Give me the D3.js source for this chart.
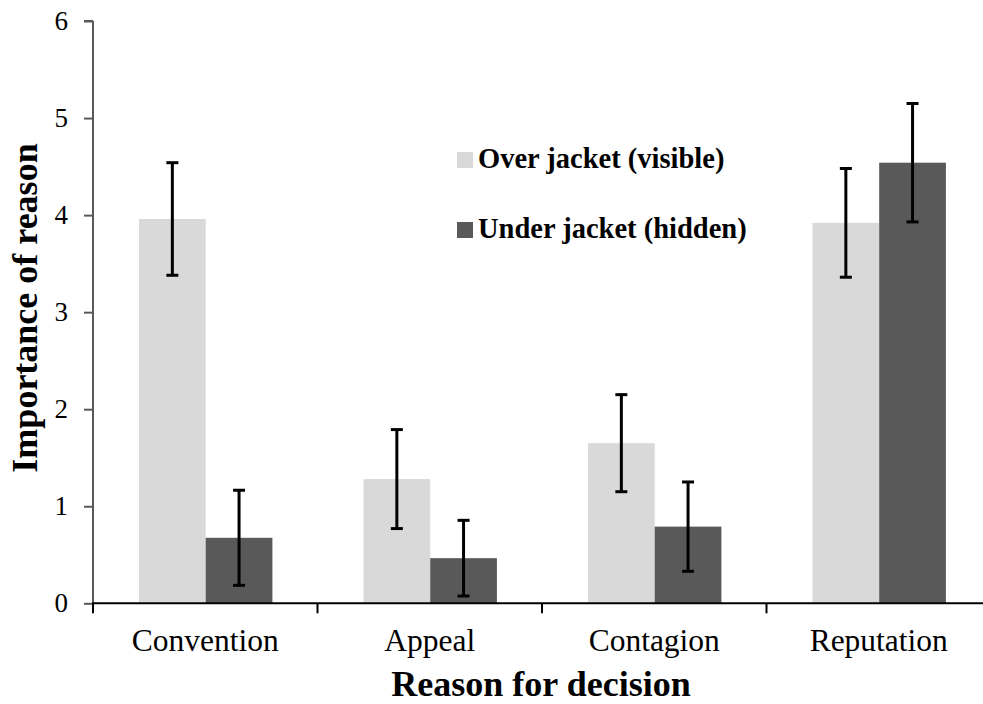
<!DOCTYPE html>
<html>
<head>
<meta charset="utf-8">
<script src="https://cdn.jsdelivr.net/npm/d3@7"></script>
<style>
  html, body { margin: 0; padding: 0; background: #fff; }
  svg { display: block; font-family: "Liberation Serif", "Times New Roman", serif; }
</style>
</head>
<body>
<svg id="chart" width="983" height="704"></svg>
<script>
// Mean importance ratings with error margins, by reason and placement
const categories = ["Convention", "Appeal", "Contagion", "Reputation"];
const seriesNames = ["Over jacket (visible)", "Under jacket (hidden)"];
const overValues = [3.96, 1.28, 1.65, 3.92];
const underValues = [0.675, 0.465, 0.79, 4.54];
const overErrors = [0.58, 0.51, 0.50, 0.56];
const underErrors = [0.49, 0.39, 0.46, 0.61];
const yTicks = [0, 1, 2, 3, 4, 5, 6];
const colors = ["#d9d9d9", "#595959"];

const svg = d3.select("#chart");

const x0 = 93, yBottom = 603.3, yTop = 21, step = 224.5;

const x = d3.scaleBand().domain(categories).range([x0, x0 + step * categories.length]).padding(0);
const xs = d3.scaleBand().domain(seriesNames).range([46, 179.4]).padding(0);
const y = d3.scaleLinear().domain([0, 6]).range([yBottom, yTop]);

const rows = categories.map((c, i) => ({
  cat: c,
  bars: [
    { s: seriesNames[0], v: overValues[i], e: overErrors[i], color: colors[0] },
    { s: seriesNames[1], v: underValues[i], e: underErrors[i], color: colors[1] }
  ]
}));

// Bars
const groups = svg.append("g").selectAll("g").data(rows).join("g")
  .attr("transform", d => `translate(${x(d.cat)},0)`);

groups.selectAll("rect").data(d => d.bars).join("rect")
  .attr("x", d => xs(d.s))
  .attr("width", xs.bandwidth())
  .attr("y", d => y(d.v))
  .attr("height", d => y(0) - y(d.v))
  .attr("fill", d => d.color);

// Error bars
const eb = groups.selectAll("g.err").data(d => d.bars).join("g").attr("class", "err")
  .attr("stroke", "#000").attr("stroke-width", 3);
eb.append("line")
  .attr("x1", d => xs(d.s) + xs.bandwidth() / 2)
  .attr("x2", d => xs(d.s) + xs.bandwidth() / 2)
  .attr("y1", d => y(d.v + d.e))
  .attr("y2", d => y(d.v - d.e));
eb.append("line")
  .attr("x1", d => xs(d.s) + xs.bandwidth() / 2 - 6)
  .attr("x2", d => xs(d.s) + xs.bandwidth() / 2 + 6)
  .attr("y1", d => y(d.v + d.e))
  .attr("y2", d => y(d.v + d.e));
eb.append("line")
  .attr("x1", d => xs(d.s) + xs.bandwidth() / 2 - 6)
  .attr("x2", d => xs(d.s) + xs.bandwidth() / 2 + 6)
  .attr("y1", d => y(d.v - d.e))
  .attr("y2", d => y(d.v - d.e));

// Y axis
const yAxis = svg.append("g")
  .attr("transform", `translate(${x0},0)`)
  .call(d3.axisLeft(y).tickValues(yTicks).tickFormat(d3.format("d")).tickSize(9).tickPadding(16));
yAxis.select(".domain").attr("stroke", "#595959").attr("stroke-width", 2).attr("d", `M0,${yTop}H-9M0,${yTop}V${yBottom}`);
yAxis.selectAll(".tick line").attr("stroke", "#595959").attr("stroke-width", 2);
yAxis.selectAll(".tick text")
  .attr("font-family", "Liberation Serif, serif")
  .attr("font-size", 27)
  .attr("fill", "#000");

// X axis
const xTickPositions = d3.range(categories.length).map(i => x0 + i * step);
const xAxis = svg.append("g").attr("transform", `translate(0,${yBottom})`);
xAxis.append("line")
  .attr("x1", x0 - 1).attr("x2", x0 + step * categories.length)
  .attr("stroke", "#000").attr("stroke-width", 2);
xAxis.selectAll("line.tick").data(xTickPositions).join("line").attr("class", "tick")
  .attr("x1", d => d).attr("x2", d => d).attr("y1", 0).attr("y2", 10)
  .attr("stroke", "#000").attr("stroke-width", 2);
xAxis.selectAll("text").data(categories).join("text")
  .attr("x", d => x(d) + x.bandwidth() / 2)
  .attr("y", 48)
  .attr("text-anchor", "middle")
  .attr("font-size", 31.5)
  .attr("fill", "#000")
  .text(d => d);

// Axis titles
svg.append("text")
  .attr("x", 541).attr("y", 696)
  .attr("text-anchor", "middle")
  .attr("font-size", 36).attr("font-weight", "bold")
  .text("Reason for decision");

svg.append("text")
  .attr("transform", "translate(37,308) rotate(-90)")
  .attr("text-anchor", "middle")
  .attr("font-size", 36).attr("font-weight", "bold")
  .text("Importance of reason");

// Legend
const legend = svg.append("g").attr("transform", "translate(457,0)");
const legendRows = legend.selectAll("g").data(seriesNames).join("g")
  .attr("transform", (d, i) => `translate(0,${168 + i * 70})`);
legendRows.append("rect")
  .attr("x", 0).attr("y", -16).attr("width", 16).attr("height", 16)
  .attr("fill", (d, i) => colors[i]);
legendRows.append("text")
  .attr("x", 21).attr("y", 0)
  .attr("font-size", 28.5).attr("font-weight", "bold")
  .text(d => d);
</script>
</body>
</html>
